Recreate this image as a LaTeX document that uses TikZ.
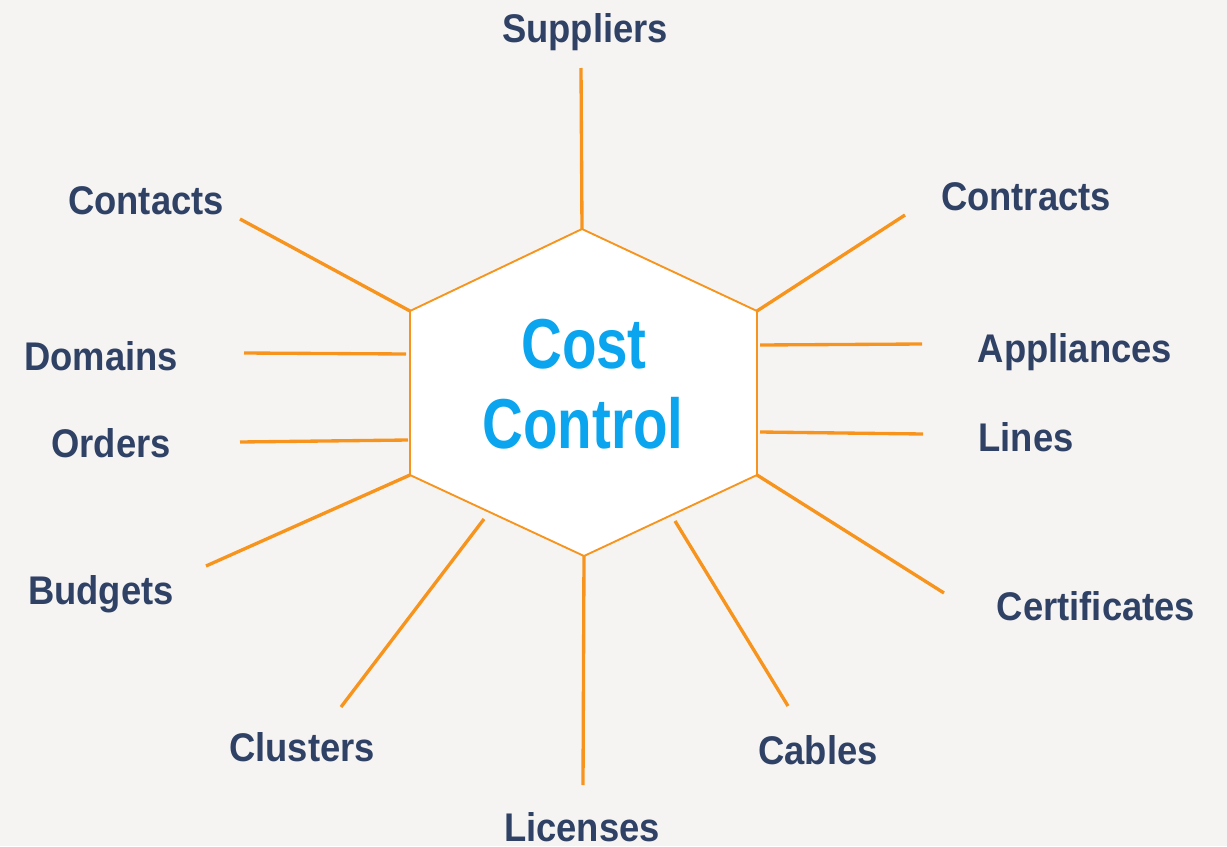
\documentclass[tikz,border=0pt]{standalone}
\usepackage{fontspec}
\setmainfont{Liberation Sans}
\definecolor{bgc}{HTML}{F6F4F2}
\definecolor{navy}{HTML}{2F4266}
\definecolor{cblue}{HTML}{0AA5EE}
\definecolor{orng}{HTML}{F7941D}
\newcommand{\lblsq}[1]{\scalebox{0.91}[1]{#1}}
\newcommand{\ccsq}[1]{\scalebox{0.8}[1]{#1}}
\begin{document}
\begin{tikzpicture}[x=0.75pt,y=-0.75pt,
  lbl/.style={anchor=base,inner sep=0pt,text=navy,font=\fontsize{30}{31}\selectfont\bfseries},
  cc/.style={anchor=base,inner sep=0pt,text=cblue,font=\fontsize{53}{56}\selectfont\bfseries},
  spoke/.style={draw=orng,line width=2.5pt},
  hexline/.style={draw=orng,fill=white,line width=1.4pt,line join=miter}]
\fill[bgc] (0,0) rectangle (1227,846);
\useasboundingbox (0,0) rectangle (1227,846);
% hexagon corners
\coordinate (hT) at (582,229);
\coordinate (hUR) at (757,311);
\coordinate (hLR) at (757,475);
\coordinate (hB) at (584,556);
\coordinate (hLL) at (410,475);
\coordinate (hUL) at (410,311);
\draw[hexline] (hT) -- (hUR) -- (hLR) -- (hB) -- (hLL) -- (hUL) -- cycle;
% spoke endpoints
\coordinate (sSup) at (581,68);
\coordinate (sCon) at (240,219);
\coordinate (sCtr) at (905,215);
\coordinate (sDomA) at (244,353); \coordinate (sDomB) at (406,354);
\coordinate (sAppA) at (760,345); \coordinate (sAppB) at (922,344);
\coordinate (sOrdA) at (240,442); \coordinate (sOrdB) at (408,440);
\coordinate (sLinA) at (760,432); \coordinate (sLinB) at (923,434);
\coordinate (sBud) at (206,566);
\coordinate (sCer) at (944,593);
\coordinate (sCluA) at (341,707); \coordinate (sCluB) at (484,519);
\coordinate (sLic) at (583,785);
\coordinate (sCabA) at (675,521); \coordinate (sCabB) at (788,706);
\draw[spoke] (sSup) -- (hT);
\draw[spoke] (sCon) -- (hUL);
\draw[spoke] (sCtr) -- (hUR);
\draw[spoke] (sDomA) -- (sDomB);
\draw[spoke] (sAppA) -- (sAppB);
\draw[spoke] (sOrdA) -- (sOrdB);
\draw[spoke] (sLinA) -- (sLinB);
\draw[spoke] (sBud) -- (hLL);
\draw[spoke] (sCer) -- (hLR);
\draw[spoke] (sCluA) -- (sCluB);
\draw[spoke] (sLic) -- (hB);
\draw[spoke] (sCabA) -- (sCabB);
% labels
\node[lbl] (suppliers) at (585,42) {\lblsq{Suppliers}};
\node[lbl] (contacts) at (146,214) {\lblsq{Contacts}};
\node[lbl] (contracts) at (1026,210) {\lblsq{Contracts}};
\node[lbl] (domains) at (101,370) {\lblsq{Domains}};
\node[lbl] (appliances) at (1075,362) {\lblsq{Appliances}};
\node[lbl] (orders) at (111,457) {\lblsq{Orders}};
\node[lbl] (lines) at (1026,451) {\lblsq{Lines}};
\node[lbl] (budgets) at (101,604) {\lblsq{Budgets}};
\node[lbl] (certificates) at (1096,620) {\lblsq{Certificates}};
\node[lbl] (clusters) at (302,761) {\lblsq{Clusters}};
\node[lbl] (cables) at (818,764) {\lblsq{Cables}};
\node[lbl] (licenses) at (582,841) {\lblsq{Licenses}};
\node[cc] (cost) at (584,368) {\ccsq{Cost}};
\node[cc] (control) at (583,448) {\ccsq{Control}};
\end{tikzpicture}
\end{document}
